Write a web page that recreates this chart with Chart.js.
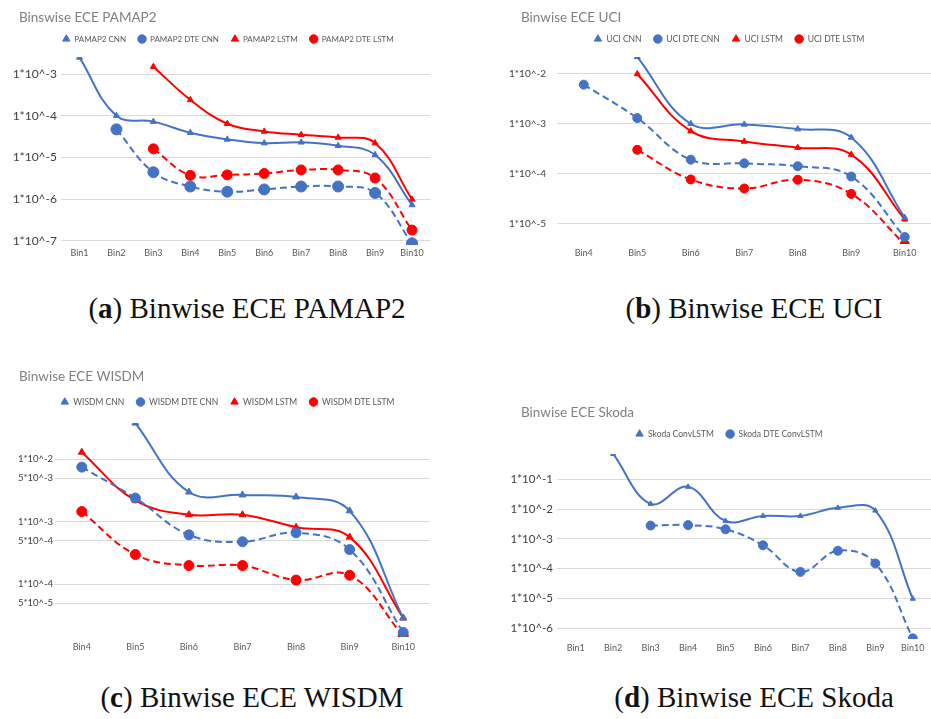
<!DOCTYPE html>
<html>
<head>
<meta charset="utf-8">
<script src="https://cdn.jsdelivr.net/npm/chart.js@4.4.0/dist/chart.umd.min.js"></script>
<style>
html, body { margin: 0; padding: 0; background: #fff; }
body { width: 931px; height: 719px; position: relative; overflow: hidden; }
canvas { position: absolute; }
.cap { position: absolute; font-family: "Liberation Serif", serif; font-size: 29px; line-height: 28px;
       color: #111; text-align: center; white-space: nowrap; }
</style>
</head>
<body>
<canvas id="chartA" width="437" height="263" style="left:0;top:0"></canvas>
<canvas id="chartB" width="472" height="262" style="left:465px;top:0"></canvas>
<canvas id="chartC" width="436" height="295" style="left:0;top:360px"></canvas>
<canvas id="chartD" width="472" height="297" style="left:465px;top:360px"></canvas>

<div class="cap" style="left:47px;top:294px;width:400px">(<b>a</b>) Binwise ECE PAMAP2</div>
<div class="cap" style="left:554px;top:294px;width:400px">(<b>b</b>) Binwise ECE UCI</div>
<div class="cap" style="left:52px;top:683px;width:400px">(<b>c</b>) Binwise ECE WISDM</div>
<div class="cap" style="left:554px;top:683px;width:400px">(<b>d</b>) Binwise ECE Skoda</div>

<script>
var BLUE = '#4472C4'
var RED = '#FF0000'

// ---- PAMAP2 ----
var pamapBins = ['Bin1', 'Bin2', 'Bin3', 'Bin4', 'Bin5', 'Bin6', 'Bin7', 'Bin8', 'Bin9', 'Bin10']
var pamapCnn     = [2.5e-3, 1.0e-4, 7.2e-5, 3.9e-5, 2.7e-5, 2.2e-5, 2.3e-5, 1.9e-5, 1.15e-5, 7.2e-7]
var pamapDteCnn  = [null, 4.7e-5, 4.4e-6, 2.0e-6, 1.5e-6, 1.7e-6, 2.0e-6, 2.0e-6, 1.4e-6, 8.7e-8]
var pamapLstm    = [null, null, 1.5e-3, 2.4e-4, 6.4e-5, 4.2e-5, 3.5e-5, 3.0e-5, 2.2e-5, 9.8e-7]
var pamapDteLstm = [null, null, 1.6e-5, 3.7e-6, 3.8e-6, 4.1e-6, 5.0e-6, 5.0e-6, 3.2e-6, 1.8e-7]
var pamapTicks = [1e-3, 1e-4, 1e-5, 1e-6, 1e-7]
var pamapTickLabels = ['1*10^-3', '1*10^-4', '1*10^-5', '1*10^-6', '1*10^-7']

// ---- UCI ----
var uciBins = ['Bin4', 'Bin5', 'Bin6', 'Bin7', 'Bin8', 'Bin9', 'Bin10']
var uciCnn     = [null, 2.2e-2, 1.0e-3, 9.7e-4, 7.8e-4, 5.3e-4, 1.3e-5]
var uciDteCnn  = [6.1e-3, 1.3e-3, 1.9e-4, 1.6e-4, 1.4e-4, 8.7e-5, 5.3e-6]
var uciLstm    = [null, 1.0e-2, 7.1e-4, 4.4e-4, 3.3e-4, 2.4e-4, 1.2e-5]
var uciDteLstm = [null, 3.0e-4, 7.6e-5, 5.0e-5, 7.5e-5, 3.9e-5, 3.8e-6]
var uciTicks = [1e-2, 1e-3, 1e-4, 1e-5]
var uciTickLabels = ['1*10^-2', '1*10^-3', '1*10^-4', '1*10^-5']

// ---- WISDM ----
var wisdmBins = ['Bin4', 'Bin5', 'Bin6', 'Bin7', 'Bin8', 'Bin9', 'Bin10']
var wisdmCnn     = [null, 3.8e-2, 3.0e-3, 2.7e-3, 2.5e-3, 1.5e-3, 2.9e-5]
var wisdmDteCnn  = [7.5e-3, 2.4e-3, 6.2e-4, 4.8e-4, 6.7e-4, 3.6e-4, 1.7e-5]
var wisdmLstm    = [1.3e-2, 2.2e-3, 1.3e-3, 1.3e-3, 8.2e-4, 5.7e-4, 2.9e-5]
var wisdmDteLstm = [1.46e-3, 3.0e-4, 2.0e-4, 2.0e-4, 1.17e-4, 1.4e-4, 1.5e-5]
var wisdmTicks = [1e-2, 5e-3, 1e-3, 5e-4, 1e-4, 5e-5]
var wisdmTickLabels = ['1*10^-2', '5*10^-3', '1*10^-3', '5*10^-4', '1*10^-4', '5*10^-5']

// ---- Skoda ----
var skodaBins = ['Bin1', 'Bin2', 'Bin3', 'Bin4', 'Bin5', 'Bin6', 'Bin7', 'Bin8', 'Bin9', 'Bin10']
var skodaConv    = [null, 0.71, 1.5e-2, 5.6e-2, 4.0e-3, 5.9e-3, 5.9e-3, 1.1e-2, 8.9e-3, 9.8e-6]
var skodaDteConv = [null, null, 2.8e-3, 2.9e-3, 2.1e-3, 6.1e-4, 7.8e-5, 4.0e-4, 1.5e-4, 4.6e-7]
var skodaTicks = [1e-1, 1e-2, 1e-3, 1e-4, 1e-5, 1e-6]
var skodaTickLabels = ['1*10^-1', '1*10^-2', '1*10^-3', '1*10^-4', '1*10^-5', '1*10^-6']


function series(label, data, color, dte, radius) {
    return {
        label: label,
        data: data,
        borderColor: color,
        backgroundColor: color,
        pointBackgroundColor: color,
        pointBorderColor: color,
        pointBorderWidth: 1,
        pointStyle: dte ? 'circle' : 'triangle',
        pointRadius: radius,
        borderWidth: 2,
        borderDash: dte ? [7, 4] : [],
        tension: 0.4,
        fill: false
    }
}

// y labels stick out left of the axis box (title sets the left padding), so don't clip them
var unclipY = {
    id: 'unclipY',
    afterLayout: function (chart) { chart.scales.y.left = 0 }
}

// box: where title / legend / plot go inside the canvas
function panel(id, bins, datasets, ax, box) {
    var pad = 12
    new Chart(document.getElementById(id), {
        type: 'line',
        plugins: [unclipY],
        data: { labels: bins, datasets: datasets },
        options: {
            responsive: false,
            animation: false,
            layout: { padding: { left: box.padL, right: 0, top: 0, bottom: 0 } },
            plugins: {
                title: {
                    display: true,
                    text: box.title,
                    align: 'start',
                    color: '#808080',
                    font: { family: 'Lato', size: box.ts, weight: 'normal' },
                    padding: { top: box.tc - 0.6 * box.ts,
                               bottom: (box.lc - pad - box.lf / 2) - (box.tc + 0.6 * box.ts) }
                },
                // empty spacer between legend and plot
                subtitle: {
                    display: true, text: '', weight: 500,
                    font: { size: 1, lineHeight: '0px' },
                    padding: { top: box.ct - (box.lc + box.lf / 2 + 10), bottom: 0 }
                },
                legend: {
                    labels: {
                        usePointStyle: true,
                        boxHeight: 6,
                        padding: pad,
                        color: '#595959',
                        font: { family: 'Lato', size: box.lf }
                    }
                },
                tooltip: { enabled: false }
            },
            scales: {
                x: {
                    offset: true,
                    grid: { display: false, drawTicks: false },
                    border: { display: false },
                    ticks: { color: '#595959', font: { family: 'Lato', size: 9 }, padding: box.xPad,
                             maxRotation: 0, autoSkip: false },
                    afterFit: function (s) { s.height = 18 }
                },
                y: {
                    type: 'logarithmic',
                    min: ax.min,
                    max: ax.max,
                    grid: { color: '#d9d9d9', drawTicks: false, lineWidth: 1 },
                    border: { display: false },
                    ticks: {
                        color: '#404040',
                        font: { family: 'Lato', size: box.yFont },
                        padding: box.yPad,
                        autoSkip: false,
                        callback: function (v, i) { return ax.labels[i] }
                    },
                    afterBuildTicks: function (s) {
                        s.ticks = ax.ticks.map(function (v) { return { value: v } })
                    },
                    afterFit: function (s) { s.width = box.yW }
                }
            }
        }
    })
}

panel('chartA', pamapBins, [
    series('PAMAP2 CNN', pamapCnn, BLUE, false, 3.5),
    series('PAMAP2 DTE CNN', pamapDteCnn, BLUE, true, 5.5),
    series('PAMAP2 LSTM', pamapLstm, RED, false, 3.5),
    series('PAMAP2 DTE LSTM', pamapDteLstm, RED, true, 5)
], { min: 7.9e-8, max: 2.56e-3, ticks: pamapTicks, labels: pamapTickLabels },
   { title: 'Binswise ECE PAMAP2', padL: 19, tc: 18, lc: 39, ct: 57, ts: 13.5, lf: 8,
     yW: 42, yFont: 12, yPad: 4, xPad: 3 })

panel('chartB', uciBins, [
    series('UCI CNN', uciCnn, BLUE, false, 3.5),
    series('UCI DTE CNN', uciDteCnn, BLUE, true, 4.5),
    series('UCI LSTM', uciLstm, RED, false, 3.5),
    series('UCI DTE LSTM', uciDteLstm, RED, true, 4.5)
], { min: 3.84e-6, max: 2.19e-2, ticks: uciTicks, labels: uciTickLabels },
   { title: 'Binwise ECE UCI', padL: 56, tc: 18, lc: 39, ct: 57, ts: 13.5, lf: 8.5,
     yW: 36, yFont: 10, yPad: 11, xPad: 4 })

panel('chartC', wisdmBins, [
    series('WISDM CNN', wisdmCnn, BLUE, false, 4),
    series('WISDM DTE CNN', wisdmDteCnn, BLUE, true, 5),
    series('WISDM LSTM', wisdmLstm, RED, false, 4),
    series('WISDM DTE LSTM', wisdmDteLstm, RED, true, 5)
], { min: 1.44e-5, max: 3.81e-2, ticks: wisdmTicks, labels: wisdmTickLabels },
   { title: 'Binwise ECE WISDM', padL: 19, tc: 17, lc: 42, ct: 63, ts: 13.5, lf: 8.5,
     yW: 36, yFont: 9.5, yPad: 2, xPad: 5 })

panel('chartD', skodaBins, [
    series('Skoda ConvLSTM', skodaConv, BLUE, false, 3),
    series('Skoda DTE ConvLSTM', skodaDteConv, BLUE, true, 4.5)
], { min: 4.37e-7, max: 0.706, ticks: skodaTicks, labels: skodaTickLabels },
   { title: 'Binwise ECE Skoda', padL: 56, tc: 53, lc: 74, ct: 94, ts: 13.5, lf: 8.5,
     yW: 36, yFont: 11.5, yPad: 4, xPad: 4 })
</script>
</body>
</html>
